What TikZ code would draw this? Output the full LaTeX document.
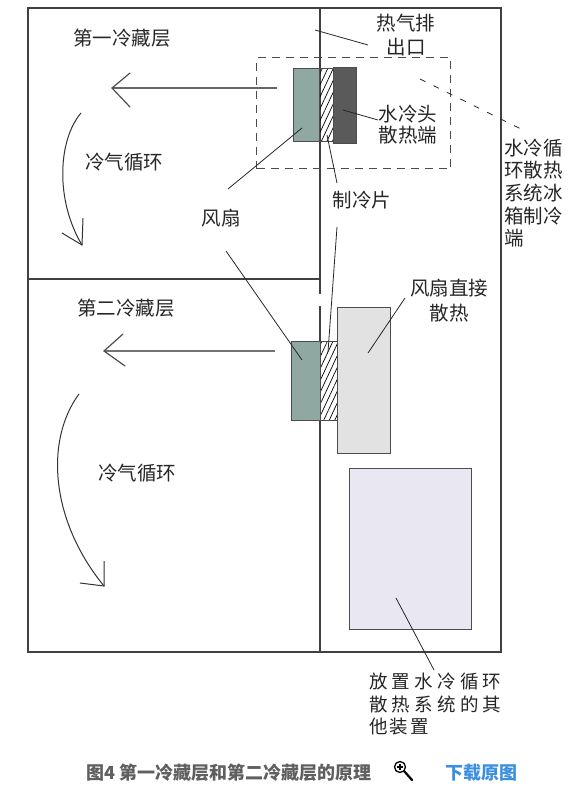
\documentclass[tikz,border=0pt]{standalone}
\usepackage{fontspec}
\newfontfamily\cjk{Noto Sans CJK SC}
\usetikzlibrary{patterns.meta}
\definecolor{fang}{HTML}{8FA9A2}
\definecolor{headg}{HTML}{5A5A5A}
\definecolor{radg}{HTML}{E2E2E2}
\definecolor{lav}{HTML}{E9E7F2}
\definecolor{capg}{HTML}{5F5F5F}
\definecolor{capb}{HTML}{3B8FDE}
\tikzset{
  frame/.style={draw=black!75, line width=1.1pt},
  boxbase/.style={anchor=north west, inner sep=0pt, outer sep=0pt, draw=black!70, line width=1pt},
  fanbox/.style={boxbase, fill=fang},
  peltbox/.style={boxbase, pattern={Lines[angle=65, distance=5pt, line width=0.7pt]}},
  headbox/.style={boxbase, fill=headg},
  radbox/.style={boxbase, fill=radg},
  othbox/.style={boxbase, fill=lav},
  dashbox/.style={anchor=north west, inner sep=0pt, draw=black!70, line width=1.3pt, dash pattern=on 8pt off 6pt},
  lbl/.style={font=\cjk\fontsize{19.5}{22}\selectfont, inner sep=0pt, text=black!85},
  leader/.style={draw=black!85, line width=0.8pt},
  arrowline/.style={draw=black!60, line width=2pt},
  arrowline2/.style={draw=black!55, line width=1.4pt},
  chev/.style={draw=black!70, line width=1.2pt, line cap=round, line join=miter},
  curvearrow/.style={draw=black!80, line width=1pt},
}
\begin{document}
\begin{tikzpicture}[x=1pt,y=-1pt]
\useasboundingbox (0,0) rectangle (584,795);
% frame
\draw[frame] (28,8) rectangle (501,652);
\draw[frame] (320,8) -- (320,294);
\draw[frame] (320,306) -- (320,652);
\draw[frame] (28,279) -- (320,279);

% hot zone dashed box
\node[dashbox, minimum width=194pt, minimum height=111pt] (hotzone) at (256,57) {};

% first layer components
\node[fanbox, minimum width=26pt, minimum height=73pt] (fan1) at (293,68) {};
\node[peltbox, minimum width=14pt, minimum height=73pt] (pelt1) at (319,68) {};
\node[headbox, minimum width=23pt, minimum height=76pt] (head) at (333,67) {};

% second layer components
\node[fanbox, minimum width=29pt, minimum height=79pt] (fan2) at (291,341) {};
\node[peltbox, minimum width=17pt, minimum height=79pt] (pelt2) at (320,341) {};
\node[radbox, minimum width=53pt, minimum height=146pt] (rad) at (337,307) {};
\node[othbox, minimum width=122pt, minimum height=161pt] (other) at (349,468) {};

% straight arrows
\coordinate (a1s) at (277,88);
\coordinate (a1e) at (112,88);
\coordinate (a1u) at (130,73);
\coordinate (a1d) at (130,107);
\draw[arrowline] (a1s) -- (a1e);
\draw[chev] (a1u) -- (a1e) -- (a1d);

\coordinate (a2s) at (275,351);
\coordinate (a2e) at (104,351);
\coordinate (a2u) at (123,334);
\coordinate (a2d) at (125,366);
\draw[arrowline2] (a2s) -- (a2e);
\draw[chev] (a2u) -- (a2e) -- (a2d);

% curved arrows
\coordinate (c1s) at (81,113);
\coordinate (c1e) at (82,245);
\coordinate (c1u) at (62,233);
\coordinate (c1v) at (83,218);
\draw[curvearrow] (c1s) .. controls (58,140) and (55,200) .. (c1e);
\draw[curvearrow] (c1u) -- (c1e) -- (c1v);

\coordinate (c2s) at (79,394);
\coordinate (c2e) at (104,586);
\coordinate (c2u) at (80,583);
\coordinate (c2v) at (104,561);
\draw[curvearrow] (c2s) .. controls (45,440) and (50,520) .. (c2e);
\draw[curvearrow] (c2u) -- (c2e) -- (c2v);

% labels
\node[lbl] (l1) at (122,38) {第一冷藏层};
\node[lbl] (cc1) at (124,162) {冷气循环};
\node[lbl] (fanl) at (221,218) {风扇};
\node[lbl, align=center, font=\cjk\fontsize{19.5}{24}\selectfont] (hot) at (406,35) {热气排\\出口};
\node[lbl, align=center, font=\cjk\fontsize{19.5}{21}\selectfont] (headl) at (408,125) {水冷头\\散热端};
\node[lbl] (peltl) at (362,200) {制冷片};
\node[lbl, align=left, anchor=west, font=\cjk\fontsize{19.5}{22.7}\selectfont] (sysl) at (504,193) {水冷循\\环散热\\系统冰\\箱制冷\\端};
\node[lbl] (l2) at (126,308) {第二冷藏层};
\node[lbl] (cc2) at (137,473) {冷气循环};
\node[lbl, align=center, font=\cjk\fontsize{19.5}{25}\selectfont] (radl) at (449,300.5) {风扇直接\\散热};
\node[lbl, align=left, anchor=north west, font=\cjk\fontsize{18.5}{22.5}\selectfont] (othl) at (369,673) {\makebox[132pt][s]{放\hfill 置\hfill 水\hfill 冷\hfill 循\hfill 环}\\\makebox[132pt][s]{散\hfill 热\hfill 系\hfill 统\hfill 的\hfill 其}\\\makebox[60pt][s]{他\hfill 装\hfill 置}};

% leader lines
\coordinate (hotA) at (315,30);
\coordinate (hotB) at (368,45);
\draw[leader] (hotA) -- (hotB);
\coordinate (headA) at (343,110);
\coordinate (headB) at (378,120);
\draw[leader] (headA) -- (headB);
\coordinate (fanA1) at (228,189);
\coordinate (fanB1) at (302,128);
\draw[leader] (fanA1) -- (fanB1);
\coordinate (fanA2) at (226,251);
\coordinate (fanB2) at (302,360);
\draw[leader] (fanA2) -- (fanB2);
\coordinate (peA1) at (327,135);
\coordinate (peB1) at (337,183);
\draw[leader] (peA1) -- (peB1);
\coordinate (peA2) at (337,227);
\coordinate (peB2) at (328,352);
\draw[leader] (peA2) -- (peB2);
\coordinate (radA) at (405,298);
\coordinate (radB) at (368,353);
\draw[leader] (radA) -- (radB);
\coordinate (sysA) at (420,79);
\coordinate (sysB) at (527,132);
\draw[leader, dash pattern=on 6pt off 9pt] (sysA) -- (sysB);
\coordinate (othA) at (396,598);
\coordinate (othB) at (434,670);
\draw[leader] (othA) -- (othB);

% caption
\node[anchor=west, inner sep=0pt, text=capg, font=\cjk\bfseries\fontsize{18}{20}\selectfont] (cap) at (86,773) {图4 第一冷藏层和第二冷藏层的原理};
\node[anchor=west, inner sep=0pt, text=capb, font=\cjk\bfseries\fontsize{18}{20}\selectfont] (dl) at (445,773) {下载原图};
% magnifier icon
\node[circle, draw=black, line width=1.3pt, minimum size=11pt, inner sep=0pt] (mag) at (400,767) {};
\draw[line width=1.1pt] (mag.center) ++(-3,0) -- ++(6,0);
\draw[line width=1.1pt] (mag.center) ++(0,-3) -- ++(0,6);
\coordinate (magE) at (412,780);
\draw[line width=2.2pt, line cap=round] (mag.south east) -- (magE);
\end{tikzpicture}
\end{document}
